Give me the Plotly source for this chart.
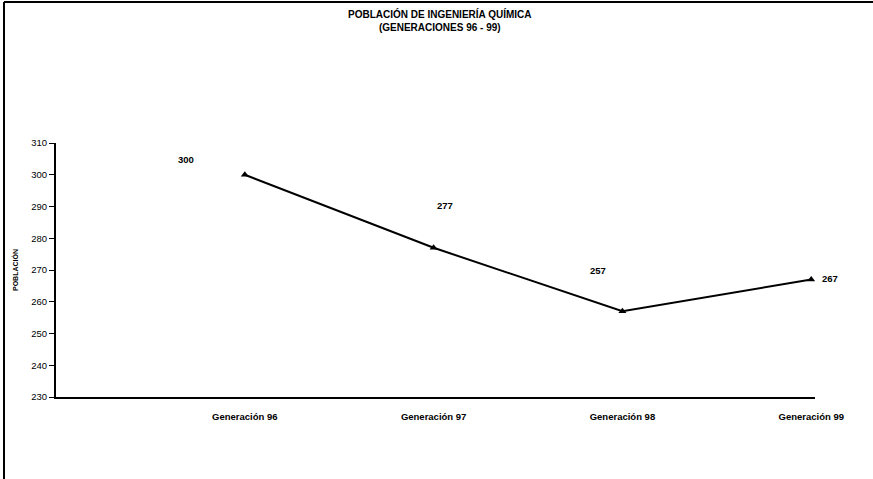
import plotly.graph_objects as go

categories = ["Generación 96", "Generación 97", "Generación 98", "Generación 99"]
poblacion = [300, 277, 257, 267]
y_ticks = [230, 240, 250, 260, 270, 280, 290, 300, 310]

FONT = "Arial, Liberation Sans, sans-serif"
W, H = 873, 479
L, R, T, B = 56, 58, 143, 82
PW, PH = W - L - R, H - T - B


def px(x):
    return (x - L) / PW


def py(y):
    return (H - B - y) / PH


fig = go.Figure()
fig.add_trace(go.Scatter(
    x=categories, y=poblacion, mode="lines+markers",
    line=dict(color="black", width=2),
    marker=dict(symbol="triangle-up", size=7, color="black"),
    showlegend=False, hoverinfo="skip",
))

# data label offsets (pixels) mimicking the original placement
shifts = [(-59, 15), (11, 42), (-24, 41), (19, 1)]
for c, v, (dx, dy) in zip(categories, poblacion, shifts):
    fig.add_annotation(x=c, y=v, text=f"<b>{v}</b>", showarrow=False,
                       xshift=dx, yshift=dy,
                       font=dict(family=FONT, size=9.5, color="black"))

fig.add_annotation(xref="paper", yref="paper", x=px(440), y=py(6),
                   xanchor="center", yanchor="top", showarrow=False,
                   text="<b>POBLACIÓN DE INGENIERÍA QUÍMICA<br>(GENERACIONES 96 - 99)</b>",
                   font=dict(family=FONT, size=10, color="black"))

fig.update_layout(
    width=W, height=H,
    margin=dict(l=L, r=R, t=T, b=B),
    paper_bgcolor="white", plot_bgcolor="white",
    font=dict(family=FONT, color="black"),
    xaxis=dict(type="category", range=[-1, 3.02], showgrid=False, automargin=False,
               showline=True, linecolor="black", linewidth=2,
               ticks="", tickfont=dict(family=FONT, size=9.5, color="black"),
               tickprefix="<b>", ticksuffix="</b>", ticklabelstandoff=10),
    yaxis=dict(range=[230, 310], tickvals=y_ticks, showgrid=False, zeroline=False,
               automargin=False,
               showline=True, linecolor="black", linewidth=2,
               ticks="outside", ticklen=5, tickcolor="black",
               tickfont=dict(family=FONT, size=9.5, color="black"),
               tickprefix="<b>", ticksuffix="</b>",
               title=dict(text="<b>POBLACIÓN</b>", standoff=12,
                          font=dict(family=FONT, size=7, color="black"))),
)

# scanned page frame lines
fig.add_shape(type="line", xref="paper", yref="paper", x0=px(4), x1=px(873), y0=py(2), y1=py(2),
              line=dict(color="black", width=2))
fig.add_shape(type="line", xref="paper", yref="paper", x0=px(4), x1=px(4), y0=py(479), y1=py(2),
              line=dict(color="black", width=2))

fig.write_html("out.html", config={"displayModeBar": False},
               post_script="document.body.style.margin='0';document.body.style.overflow='hidden';")
